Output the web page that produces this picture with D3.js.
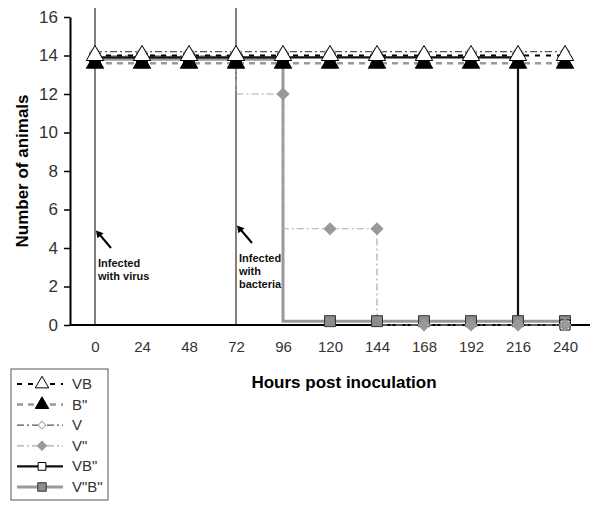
<!DOCTYPE html>
<html><head><meta charset="utf-8">
<script src="https://cdn.jsdelivr.net/npm/d3@7"></script>
<style>body{margin:0;background:#fff}svg{display:block;font-family:"Liberation Sans",Arial,sans-serif}</style>
</head><body><svg id="c" width="600" height="510"></svg>
<script>
const hours = [0,24,48,72,96,120,144,168,192,216,240];
const yTicks = [0,2,4,6,8,10,12,14,16];
const VB    = [14,14,14,14,14,14,14,14,14,14,14];
const Bpp   = [13.6,13.6,13.6,13.6,13.6,13.6,13.6,13.6,13.6,13.6,13.6];
const V     = [14.2,14.2,14.2,14.2,14.2,14.2,14.2,14.2,14.2,14.2,14.2];
const Vpp   = [14,14,14,14,12,5,5,0,0,0,0];
const VBpp  = [13.9,13.9,13.9,13.9,13.9,13.9,13.9,13.9,13.9,13.9,0];
const VppBpp= [13.8,13.8,13.8,13.8,13.8,0.2,0.2,0.2,0.2,0.2,0.2];
const seriesNames = ["VB","B\"","V","V\"","VB\"","V\"B\""];
const infectionTimes = [0,72];

const svg = d3.select("#c");
const x = d3.scaleLinear().domain([0,240]).range([95,565]);
const y = d3.scaleLinear().domain([0,16]).range([325,17]);

const styles = [
  {name:seriesNames[0], data:VB,  stroke:"#000", w:1.8, dash:"5,6", sym:d3.symbolTriangle, rot:0, size:130, fill:"#fff", mstroke:"#000"},
  {name:seriesNames[1], data:Bpp, stroke:"#999", w:2.5, dash:"6,5", sym:d3.symbolTriangle, rot:0, size:130, fill:"#000", mstroke:"#000"},
  {name:seriesNames[2], data:V,   stroke:"#555", w:1.2, dash:"7,3,2,3", sym:d3.symbolSquare, rot:45, size:50, fill:"#fff", mstroke:"#aaa"},
  {name:seriesNames[3], data:Vpp, stroke:"#aaa", w:1.2, dash:"7,3,2,3", sym:d3.symbolSquare, rot:45, size:70, fill:"#999", mstroke:"#999"},
  {name:seriesNames[4], data:VBpp,stroke:"#111", w:2.2, dash:null, sym:d3.symbolSquare, rot:0, size:100, fill:"#fff", mstroke:"#000"},
  {name:seriesNames[5], data:VppBpp,stroke:"#999", w:3, dash:null, sym:d3.symbolSquare, rot:0, size:120, fill:"#8c8c8c", mstroke:"#333"}
];

// annotation vertical lines
svg.selectAll("line.inf").data(infectionTimes).enter().append("line")
  .attr("x1",d=>x(d)).attr("x2",d=>x(d)).attr("y1",8).attr("y2",325)
  .attr("stroke","#000").attr("stroke-width",1);

// axes
const yAxis = svg.append("g").attr("transform","translate(70,0)")
  .call(d3.axisLeft(y).tickValues(yTicks).tickSize(6).tickSizeOuter(0).tickPadding(6));
yAxis.select(".domain").attr("stroke","#000").attr("stroke-width",2);
yAxis.selectAll(".tick line").attr("stroke","#000").attr("stroke-width",1.5);
yAxis.selectAll(".tick text").attr("font-size",17).attr("fill","#333").attr("font-family","Liberation Sans, Arial");

svg.append("line").attr("x1",70).attr("x2",590).attr("y1",325).attr("y2",325).attr("stroke","#000").attr("stroke-width",2);
const xAxis = svg.append("g").attr("transform","translate(0,325)")
  .call(d3.axisBottom(x).tickValues(hours).tickSize(0).tickPadding(16));
xAxis.select(".domain").remove();
xAxis.selectAll(".tick text").attr("font-size",15).attr("fill","#333").attr("font-family","Liberation Sans, Arial");

// series (draw in reverse so triangles on top)
const order = [5,4,3,2,1,0];
order.forEach(i=>{
  const s = styles[i];
  const line = d3.line().x((d,j)=>x(hours[j])).y(d=>y(d)).curve(d3.curveStepBefore);
  svg.append("path").datum(s.data).attr("d",line).attr("fill","none")
    .attr("stroke",s.stroke).attr("stroke-width",s.w).attr("stroke-dasharray",s.dash);
});
order.forEach(i=>{
  const s = styles[i];
  svg.append("g").selectAll("path").data(s.data).enter().append("path")
    .attr("d",d3.symbol().type(s.sym).size(s.size))
    .attr("transform",(d,j)=>`translate(${x(hours[j])},${y(d)}) rotate(${s.rot})`)
    .attr("fill",s.fill).attr("stroke",s.mstroke).attr("stroke-width",1);
});

// annotations
function annot(t, lines, ty){
  const x0 = x(t);
  svg.append("line").attr("x1",x0+16).attr("y1",ty-10).attr("x2",x0+5).attr("y2",ty-23)
    .attr("stroke","#000").attr("stroke-width",2);
  svg.append("path").attr("d",d3.symbol().type(d3.symbolTriangle).size(28)())
    .attr("transform",`translate(${x0+4},${ty-24}) rotate(-40)`).attr("fill","#000");
  const tx = svg.append("text").attr("x",x0+3).attr("y",ty+9).attr("font-size",11).attr("font-weight","bold").attr("fill","#111");
  lines.forEach((l,k)=>tx.append("tspan").attr("x",x0+3).attr("dy",k?13:0).text(l));
}
annot(0,["Infected","with virus"],258);
annot(72,["Infected","with","bacteria"],253);

// titles
svg.append("text").attr("transform","translate(28,171) rotate(-90)").attr("text-anchor","middle")
  .attr("font-size",17).attr("font-weight","bold").text("Number of animals");
svg.append("text").attr("x",344).attr("y",388).attr("text-anchor","middle")
  .attr("font-size",17).attr("font-weight","bold").text("Hours post inoculation");

// legend
svg.append("rect").attr("x",11).attr("y",369).attr("width",97).attr("height",131)
  .attr("fill","#fff").attr("stroke","#555").attr("stroke-width",1);
styles.forEach((s,i)=>{
  const ly = 384 + i*20.6;
  svg.append("line").attr("x1",17).attr("x2",63).attr("y1",ly).attr("y2",ly)
    .attr("stroke",s.stroke).attr("stroke-width",s.w).attr("stroke-dasharray",s.dash);
  svg.append("path").attr("d",d3.symbol().type(s.sym).size(s.size*0.6)())
    .attr("transform",`translate(42,${ly}) rotate(${s.rot})`).attr("fill",s.fill).attr("stroke",s.mstroke);
  svg.append("text").attr("x",72).attr("y",ly+5).attr("font-size",15).attr("fill","#333").text(s.name);
});
</script></body></html>
